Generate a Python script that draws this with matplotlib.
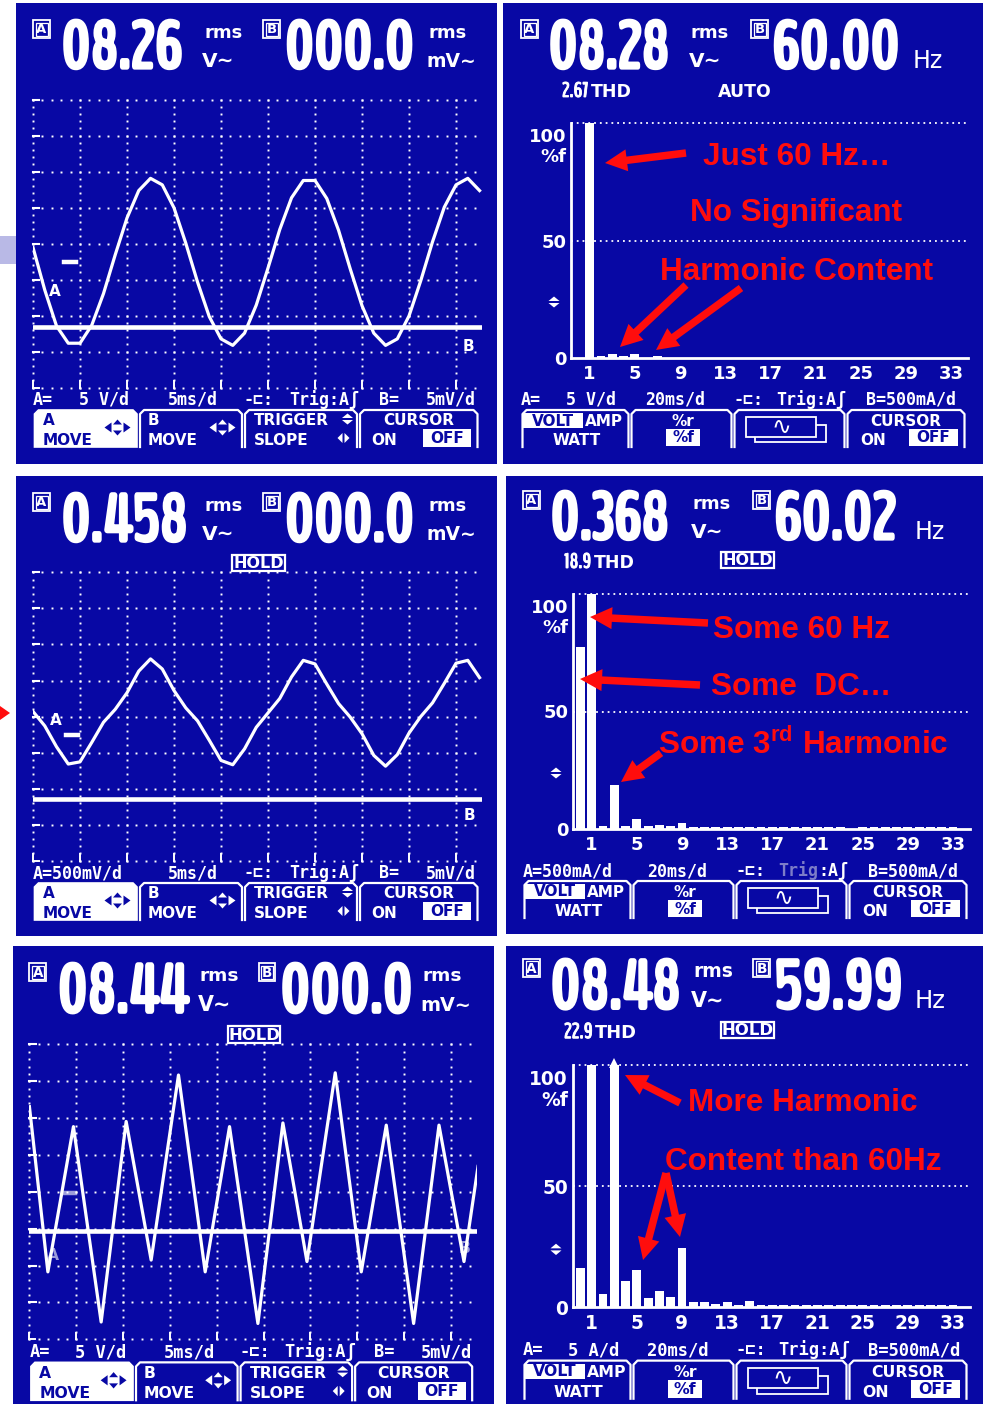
import matplotlib
matplotlib.use("Agg")
import numpy as np
import matplotlib.pyplot as plt
import matplotlib.patheffects as pe
from matplotlib import font_manager
from matplotlib.font_manager import FontProperties
from matplotlib.ft2font import FT2Font
from matplotlib.patches import Rectangle, Polygon, FancyArrow

W, H = 984, 1404
BLUE = "#0808a4"
RED = "#ff0d0d"
LAVENDER = "#b9b9e6"

plt.rcParams["font.family"] = "DejaVu Sans"
plt.rcParams["mathtext.fontset"] = "custom"
plt.rcParams["mathtext.rm"] = "Liberation Sans:bold"

# ---------------- meter readings ----------------
scope_read_a = ["08.26", "0.458", "08.44"]
scope_read_b = ["000.0", "000.0", "000.0"]
spec_read_a = ["08.28", "0.368", "08.48"]
spec_read_b = ["60.00", "60.02", "59.99"]
spec_thd = ["2.67", "18.9", "22.9"]

# ---------------- scope traces ----------------
# channel A samples every quarter division (1.25 ms at 5 ms/div)
SAMPLE_MS = 1.25
scope1_volts = [2.0, -3.9, -8.9, -11.3, -11.3, -8.8, -4.4, 1.0, 6.1, 9.9,
                11.6, 10.7, 7.5, 2.6, -2.8, -7.6, -10.7, -11.6, -9.9, -6.0,
                -0.85, 4.5, 8.9, 11.3, 11.3, 8.8, 4.4, -1.0, -6.1, -9.9,
                -11.6, -10.7, -7.5, -2.6, 2.8, 7.6, 10.7, 11.6, 9.9]
scope3_volts = [0.32, 0.12, -0.17, -0.41, -0.38, -0.11, 0.17, 0.35, 0.58, 0.88,
                1.05, 0.91, 0.61, 0.37, 0.19, -0.08, -0.36, -0.42, -0.20, 0.10,
                0.30, 0.50, 0.80, 1.03, 0.98, 0.70, 0.43, 0.24, 0.01, -0.29,
                -0.44, -0.28, 0.02, 0.25, 0.44, 0.71, 0.99, 1.03, 0.79]
# distorted waveform: turning points (ms, V)
scope5_ms = [0.0, 1.97, 4.70, 7.66, 10.33, 13.0, 15.92, 18.77, 21.37, 24.40,
             27.07, 29.64, 32.66, 35.44, 38.11, 41.03, 43.74, 46.41, 47.91]
scope5_volts = [11.7, -10.7, 9.0, -17.5, 9.7, -9.1, 16.0, -10.7, 9.0, -17.7,
                9.5, -9.3, 16.3, -10.7, 9.2, -17.7, 9.2, -9.3, 3.6]

# ---------------- harmonic spectra, % of fundamental ----------------
orders = list(range(34))  # 0 = DC
spec_clean = [0, 100, 1.0, 1.7, 1.0, 1.5, 0, 0.9, 0, 0,
              0, 0, 0, 0, 0, 0, 0, 0, 0, 0,
              0, 0, 0, 0, 0, 0, 0, 0, 0, 0,
              0, 0, 0, 0]
spec_dc = [77.4, 100, 1.1, 18.8, 1.1, 4.2, 1.1, 1.8, 1.1, 2.5,
           1.0, 1.0, 1.0, 1.0, 1.0, 1.0, 1.0, 1.0, 1.0, 1.0,
           1.0, 1.0, 1.0, 1.0, 0.0, 0.9, 0.9, 0.9, 0.9, 0.9,
           0.9, 0.9, 0.9, 0.9]
spec_dist = [16.0, 100, 5.3, 103, 10.8, 15.3, 3.6, 6.8, 4.3, 24.3,
             2.2, 2.2, 1.2, 2.2, 1.0, 2.4, 1.0, 1.0, 1.0, 1.0,
             1.0, 1.0, 1.0, 1.0, 1.0, 1.0, 1.0, 1.0, 1.0, 1.0,
             1.0, 1.0, 1.0, 1.0]
harm_ticks = [1, 5, 9, 13, 17, 21, 25, 29, 33]


# ---------------- fonts ----------------
def _digit_shape(path):
    """(advance / height, height / em) of the digit zero."""
    try:
        f = FT2Font(path)
        f.set_size(100, 72)
        g = f.load_char(ord("0"))
        h = g.height / 64.0
        return (g.linearHoriAdvance / 65536.0) / h, h / 100.0
    except Exception:
        return None


def _weight(f):
    if isinstance(f.weight, int):
        return f.weight
    return 700 if "bold" in str(f.weight) else 400


def _pick_digit_font(target=0.6):
    # narrow, heavy face for the big seven-segment style readings
    cands = []
    for f in font_manager.fontManager.ttflist:
        w = _weight(f)
        if w < 600 or f.style != "normal" or not f.fname.lower().endswith((".ttf", ".otf")):
            continue
        shape = _digit_shape(f.fname)
        if shape is None or shape[0] < 0.42:
            continue
        cands.append((f.fname, w, shape[0], shape[1]))
    narrow = [c for c in cands if c[2] <= 0.72]
    if narrow:
        best = min(narrow, key=lambda c: (abs(c[1] - 750) // 100, abs(c[2] - target)))
        return FontProperties(fname=best[0]), best[3]
    if cands:
        best = min(cands, key=lambda c: abs(c[2] - target))
        return FontProperties(fname=best[0]), best[3]
    return FontProperties(family="DejaVu Sans", weight="bold", stretch="condensed"), 0.729


DIGIT_FP, DIGIT_CAP = _pick_digit_font()
MONO = ["DejaVu Sans Mono", "DejaVu Sans"]
SANS = ["DejaVu Sans"]
TAB = 11.0     # soft-key labels
ROW = 12.0     # status row above the soft keys

fig = plt.figure(figsize=(W / 100, H / 100), dpi=100)
renderer = fig.canvas.get_renderer()
base = fig.add_axes([0, 0, 1, 1])
base.set_xlim(0, W)
base.set_ylim(H, 0)
base.set_autoscale_on(False)
base.axis("off")


class Panel:
    def __init__(self, x0, y0, sx=1.0, sy=1.0):
        self.x0, self.y0, self.sx, self.sy = x0, y0, sx, sy

    def x(self, lx):
        return self.x0 + lx * self.sx

    def y(self, ly):
        return self.y0 + ly * self.sy

    def text(self, lx, ly, s, size, color="white", ha="left", va="baseline",
             family=None, weight="bold", **kw):
        if family is None:
            family = SANS
        return base.text(self.x(lx), self.y(ly), s, fontsize=size * self.sy, color=color,
                         ha=ha, va=va, family=family, fontweight=weight, **kw)

    def rect(self, lx, ly, w, h, **kw):
        base.add_patch(Rectangle((self.x(lx), self.y(ly)), w * self.sx, h * self.sy, **kw))

    def poly(self, pts, color="white"):
        base.add_patch(Polygon([(self.x(a), self.y(b)) for a, b in pts], closed=True,
                               facecolor=color, edgecolor="none"))

    def axes(self, lx0, ly0, lx1, ly1):
        gx0, gy0, gx1, gy1 = self.x(lx0), self.y(ly0), self.x(lx1), self.y(ly1)
        ax = fig.add_axes([gx0 / W, 1 - gy1 / H, (gx1 - gx0) / W, (gy1 - gy0) / H])
        ax.set_facecolor("none")
        return ax


def lcd(P, s, lx, ly, height, width, stroke=2.4):
    """Seven-segment style reading: cap height `height`, squeezed into `width` px.
    Returns the right edge in panel units."""
    size = height / DIGIT_CAP * 0.72 * P.sy
    effects = [pe.withStroke(linewidth=stroke, foreground="white")] if stroke else None
    t = base.text(P.x(lx), P.y(ly), s, fontproperties=DIGIT_FP, color="white",
                  ha="left", va="baseline", path_effects=effects)
    t.set_fontsize(size)
    w = t.get_window_extent(renderer).width
    if w > width * P.sx:
        t.set_fontsize(size * width * P.sx / w)
        w = t.get_window_extent(renderer).width
    return lx + w / P.sx


def boxed(P, lx, ly, letter):
    P.rect(lx, ly, 17, 18, fill=False, edgecolor="white", lw=1.3)
    P.rect(lx + 2.5, ly + 2.5, 12, 13, fill=False, edgecolor="white", lw=0.9)
    P.text(lx + 8.5, ly + 9.5, letter, 9.5, ha="center", va="center")


def hold_box(P, lx, ly):
    P.rect(lx, ly, 53, 16, fill=False, edgecolor="white", lw=1.6)
    P.text(lx + 26.5, ly + 8.5, "HOLD", 11.5, ha="center", va="center")


def updown(P, cx, cy, color="white"):
    P.poly([(cx, cy - 5.5), (cx - 5.5, cy - 1), (cx + 5.5, cy - 1)], color)
    P.poly([(cx, cy + 5.5), (cx - 5.5, cy + 1), (cx + 5.5, cy + 1)], color)


def leftright(P, cx, cy, color="white"):
    P.poly([(cx - 6, cy), (cx - 1, cy - 5), (cx - 1, cy + 5)], color)
    P.poly([(cx + 6, cy), (cx + 1, cy - 5), (cx + 1, cy + 5)], color)


def diamond(P, cx, cy, color):
    P.poly([(cx - 13, cy), (cx - 6, cy - 5), (cx - 6, cy + 5)], color)
    P.poly([(cx + 13, cy), (cx + 6, cy - 5), (cx + 6, cy + 5)], color)
    P.poly([(cx, cy - 8), (cx - 4.5, cy - 3), (cx + 4.5, cy - 3)], color)
    P.poly([(cx, cy + 8), (cx - 4.5, cy + 3), (cx + 4.5, cy + 3)], color)


def tabs(P, xs, filled=None, top=407, bot=444):
    for i in range(len(xs) - 1):
        a, b = xs[i] + 1.5, xs[i + 1] - 1.5
        pts = [(a, bot), (a, top + 4), (a + 4, top), (b - 4, top), (b, top + 4), (b, bot)]
        g = [(P.x(u), P.y(v)) for u, v in pts]
        if i == filled:
            base.add_patch(Polygon(g, closed=True, facecolor="white", edgecolor="white", lw=1.2))
        else:
            base.plot([p[0] for p in g], [p[1] for p in g], color="white", lw=1.6,
                      solid_joinstyle="round")


def inverted(P, lx, ly, w, h, s):
    P.rect(lx, ly, w, h, facecolor="white", edgecolor="none")
    P.text(lx + w / 2, ly + h / 2 + 0.5, s, TAB, color=BLUE, ha="center", va="center")


def footer_row(P, items, grey=None):
    for lx, s in items:
        if not s:
            continue
        if grey and s.startswith("Trig"):
            P.text(lx, 402, "Trig", ROW, family=MONO, color="#7d7dc8")
            P.text(lx + 4 * ROW * 0.602 * 100 / 72, 402, s[4:], ROW, family=MONO)
        else:
            P.text(lx, 402, s, ROW, family=MONO)


def scope_grid(ax):
    ax.set_xlim(0, 9.55)
    ax.set_ylim(0, 8)
    ax.axis("off")
    dots_x, dots_y = [], []
    for gy in range(1, 9):
        xs = np.arange(0, 9.56, 0.2)
        dots_x += list(xs)
        dots_y += [gy] * len(xs)
    for gx in range(0, 10):
        ys = np.arange(0, 8.01, 0.2)
        dots_x += [gx] * len(ys)
        dots_y += list(ys)
    xs = np.arange(0, 9.56, 0.2)
    dots_x += list(xs)
    dots_y += [0] * len(xs)
    ax.plot(dots_x, dots_y, "s", ms=1.4, mew=0, color="white", clip_on=False)
    for gy in range(1, 9):
        ax.plot([0, 0.13], [gy, gy], color="white", lw=1.5, clip_on=False)
    for gx in range(0, 10):
        ax.plot([gx, gx], [0, 0.17], color="white", lw=1.4, clip_on=False)
    ax.plot([0, 0.12], [0, 0], color="white", lw=1.4, clip_on=False)


def scope_panel(P, rect, rd_a, rd_b, hold, foot_a, times_ms, volts, v_div,
                a_zero, b_zero, b_mv, a_lab, b_lab, faint=False):
    x0, y0, x1, y1 = rect
    base.add_patch(Rectangle((x0, y0), x1 - x0, y1 - y0, facecolor=BLUE, edgecolor="none"))
    boxed(P, 17, 17, "A")
    lcd(P, rd_a, 45.5, 65, 49, 137)
    P.text(188, 35, "rms", 13)
    P.text(186, 64, "V\u223c", 14.5)
    boxed(P, 247, 17, "B")
    lcd(P, rd_b, 269, 65, 49, 135)
    P.text(412, 35, "rms", 13)
    P.text(410, 64, "mV\u223c", 13.5)
    if hold:
        hold_box(P, 216, 79)

    ax = P.axes(17, 96.5, 465.9, 384.5)
    scope_grid(ax)
    xs = [t / 5.0 for t in times_ms]
    ys = [a_zero + v / v_div for v in volts]
    ax.plot(xs, ys, color="white", lw=2.3, solid_joinstyle="round", zorder=4)
    b_level = b_zero + b_mv / 5.0
    ax.plot([0, 9.55], [b_level, b_level], color="white", lw=3.3, zorder=4)
    alpha = 0.6 if faint else 1.0
    ax.text(a_lab[0], a_lab[1], "A", color="white", fontsize=11 * P.sy, fontweight="bold",
            ha="center", va="center", alpha=alpha)
    ax.plot([a_lab[2], a_lab[2] + 0.25], [a_zero, a_zero], color="white", lw=3.2, alpha=alpha)
    ax.text(b_lab[0], b_lab[1], "B", color="white", fontsize=11 * P.sy, fontweight="bold",
            ha="center", va="center", alpha=alpha)

    footer_row(P, [(17, foot_a[0]), (63, foot_a[1]), (152, "5ms/d"), (228, "-\u228f:"),
                   (273, "Trig:A\u0283"), (363, "B="), (410, "5mV/d")])
    tabs(P, [17, 122.5, 227.5, 342.5, 463], filled=0)
    P.text(27, 422, "A", TAB, color=BLUE)
    P.text(27, 442, "MOVE", TAB, color=BLUE)
    diamond(P, 101.5, 424.5, BLUE)
    P.text(132, 422, "B", TAB)
    P.text(132, 442, "MOVE", TAB)
    diamond(P, 206.5, 424.5, "white")
    P.text(238, 422, "TRIGGER", TAB)
    updown(P, 331.5, 416)
    P.text(238, 442, "SLOPE", TAB)
    leftright(P, 327.5, 435)
    P.text(402.5, 422, "CURSOR", TAB, ha="center")
    P.text(355, 442, "ON", TAB)
    inverted(P, 407, 426, 48, 18, "OFF")


def spectrum_panel(P, rect, rd_a, rd_b, thd, status, values, foot_a, grey=False):
    x0, y0, x1, y1 = rect
    base.add_patch(Rectangle((x0, y0), x1 - x0, y1 - y0, facecolor=BLUE, edgecolor="none"))
    boxed(P, 18, 17, "A")
    lcd(P, rd_a, 45.5, 65, 49, 137)
    P.text(188, 35, "rms", 13)
    P.text(186, 64, "V\u223c", 14.5)
    boxed(P, 248, 17, "B")
    lcd(P, rd_b, 269, 65, 49, 137)
    P.text(410, 65, "Hz", 17, weight="normal")
    right = lcd(P, thd, 59, 94, 15.5, 40, stroke=0.6)
    P.text(right + 2, 94, "THD", 12.5)
    if status == "HOLD":
        hold_box(P, 216, 78)
    else:
        P.text(215, 94, status, 12.5)

    ax = P.axes(68, 120, 465, 355)
    ax.set_xlim(-0.65, 34.5)
    ax.set_ylim(0, 100)
    for s in ("top", "right"):
        ax.spines[s].set_visible(False)
    for s in ("left", "bottom"):
        ax.spines[s].set_color("white")
        ax.spines[s].set_linewidth(2)
    for lvl in (50, 100):
        ax.axhline(lvl, color="white", lw=1.3, ls=(0, (1, 2.2)), clip_on=False, zorder=1)
    shown = [min(v, 100) for v in values]
    ax.bar(orders, shown, width=0.78, color="white", zorder=3, clip_on=False)
    for o, v in zip(orders, values):
        if v > 100:
            ax.plot(o, 100.8, marker="^", ms=6.5 * P.sy, color="white", mew=0,
                    clip_on=False, zorder=4)
    ax.set_xticks(harm_ticks)
    ax.set_xticklabels([str(t) for t in harm_ticks])
    ax.set_yticks([0, 50])
    ax.set_yticklabels(["0", "50"])
    ax.tick_params(length=0, colors="white", labelsize=13 * P.sy)
    ax.tick_params(axis="x", pad=5)
    ax.tick_params(axis="y", pad=3.5)
    for lab in ax.get_xticklabels() + ax.get_yticklabels():
        lab.set_fontweight("bold")
    ax.annotate("100\n%f", xy=(0, 100), xycoords=("axes fraction", "data"),
                xytext=(-3.6, -3.6), textcoords="offset points", ha="right", va="top",
                color="white", fontsize=13 * P.sy, fontweight="bold", linespacing=1.15)
    updown(P, 51, 299)

    footer_row(P, [(18, foot_a[0]), (63, foot_a[1]), (142, "20ms/d"), (230, "-\u228f:"),
                   (273, "Trig:A\u0283"), (363, "B=500mA/d")], grey=grey)
    tabs(P, [18, 127, 230, 343, 463])
    inverted(P, 20, 410, 60, 15, "VOLT")
    P.text(82, 423, "AMP", TAB)
    P.text(73.5, 442, "WATT", TAB, ha="center")
    P.text(180, 423, "%r", TAB, ha="center")
    inverted(P, 163, 426, 34, 17, "%f")
    P.rect(252, 422, 71, 17, facecolor=BLUE, edgecolor="white", lw=1.3)
    P.rect(243, 414, 70, 20, facecolor=BLUE, edgecolor="white", lw=1.3)
    P.text(278, 424, "\u223f", 17, ha="center", va="center", weight="normal")
    P.text(402.5, 423, "CURSOR", TAB, ha="center")
    P.text(357, 442, "ON", TAB)
    inverted(P, 406, 426, 49, 17, "OFF")


# slide background scraps at the left edge
base.add_patch(Rectangle((0, 236), 16, 28, facecolor=LAVENDER, edgecolor="none"))
base.add_patch(Polygon([(0, 706), (10, 713), (0, 720)], closed=True, facecolor=RED,
                       edgecolor="none"))

ms_grid = [k * SAMPLE_MS for k in range(len(scope1_volts))]
scope_panel(Panel(16, 3), (16, 3, 497, 464), scope_read_a[0], scope_read_b[0], False,
            ("A=", "5 V/d"), ms_grid, scope1_volts, 5.0, 3.49, 1.67, 0.0,
            (0.47, 2.66, 0.66), (9.26, 1.15))
ms_grid3 = [k * SAMPLE_MS for k in range(len(scope3_volts))]
scope_panel(Panel(16, 476), (16, 476, 497, 936), scope_read_a[1], scope_read_b[1], True,
            ("A=500mV/d", ""), ms_grid3, scope3_volts, 0.5, 3.5, 1.72, 0.0,
            (0.49, 3.9, 0.70), (9.28, 1.26))
scope_panel(Panel(12.5, 945.6, 0.996, 1.024), (13, 946, 494, 1404), scope_read_a[2],
            scope_read_b[2], True, ("A=", "5 V/d"), scope5_ms, scope5_volts, 5.0,
            3.97, 2.93, 0.0, (0.5, 2.28, 0.72), (9.29, 2.47), faint=True)

spectrum_panel(Panel(503, 3), (503, 3, 983, 464), spec_read_a[0], spec_read_b[0],
               spec_thd[0], "AUTO", spec_clean, ("A=", "5 V/d"))
spectrum_panel(Panel(505, 474), (506, 476, 983, 934), spec_read_a[1], spec_read_b[1],
               spec_thd[1], "HOLD", spec_dc, ("A=500mA/d", ""), grey=True)
spectrum_panel(Panel(505, 941.4, 1.0, 1.03), (506, 946, 983, 1404), spec_read_a[2],
               spec_read_b[2], spec_thd[2], "HOLD", spec_dist, ("A=", "5 A/d"))

# red call-outs on the spectrum screens
top = fig.add_axes([0, 0, 1, 1])
top.set_facecolor("none")
top.set_xlim(0, W)
top.set_ylim(H, 0)
top.set_autoscale_on(False)
top.axis("off")

callouts = [
    (703, 157, "Just 60 Hz\u2026"),
    (690, 213, "No Significant"),
    (660, 272, "Harmonic Content"),
    (713, 630, "Some 60 Hz"),
    (711, 687, "Some  DC\u2026"),
    (658, 745, "Some 3$^{\\mathrm{rd}}$ Harmonic"),
    (688, 1103, "More Harmonic"),
    (665, 1162, "Content than 60Hz"),
]
for x, y, s in callouts:
    top.text(x, y, s, color=RED, fontsize=22.7, fontweight="bold",
             family=["Liberation Sans", "DejaVu Sans"], ha="left", va="center")

arrows = [
    ((686, 153), (605, 163)), ((686, 285), (620, 347)), ((741, 288), (656, 350)),
    ((708, 623), (590, 617)), ((700, 685), (580, 679)), ((661, 753), (621, 782)),
    ((680, 1103), (625, 1075)), ((666, 1173), (643, 1260)), ((666, 1173), (680, 1237)),
]
for (xa, ya), (xb, yb) in arrows:
    top.add_patch(FancyArrow(xa, ya, xb - xa, yb - ya, width=7.5, head_width=22,
                             head_length=22, length_includes_head=True,
                             facecolor=RED, edgecolor="none"))

fig.savefig("out.png", dpi=100, facecolor="white")
